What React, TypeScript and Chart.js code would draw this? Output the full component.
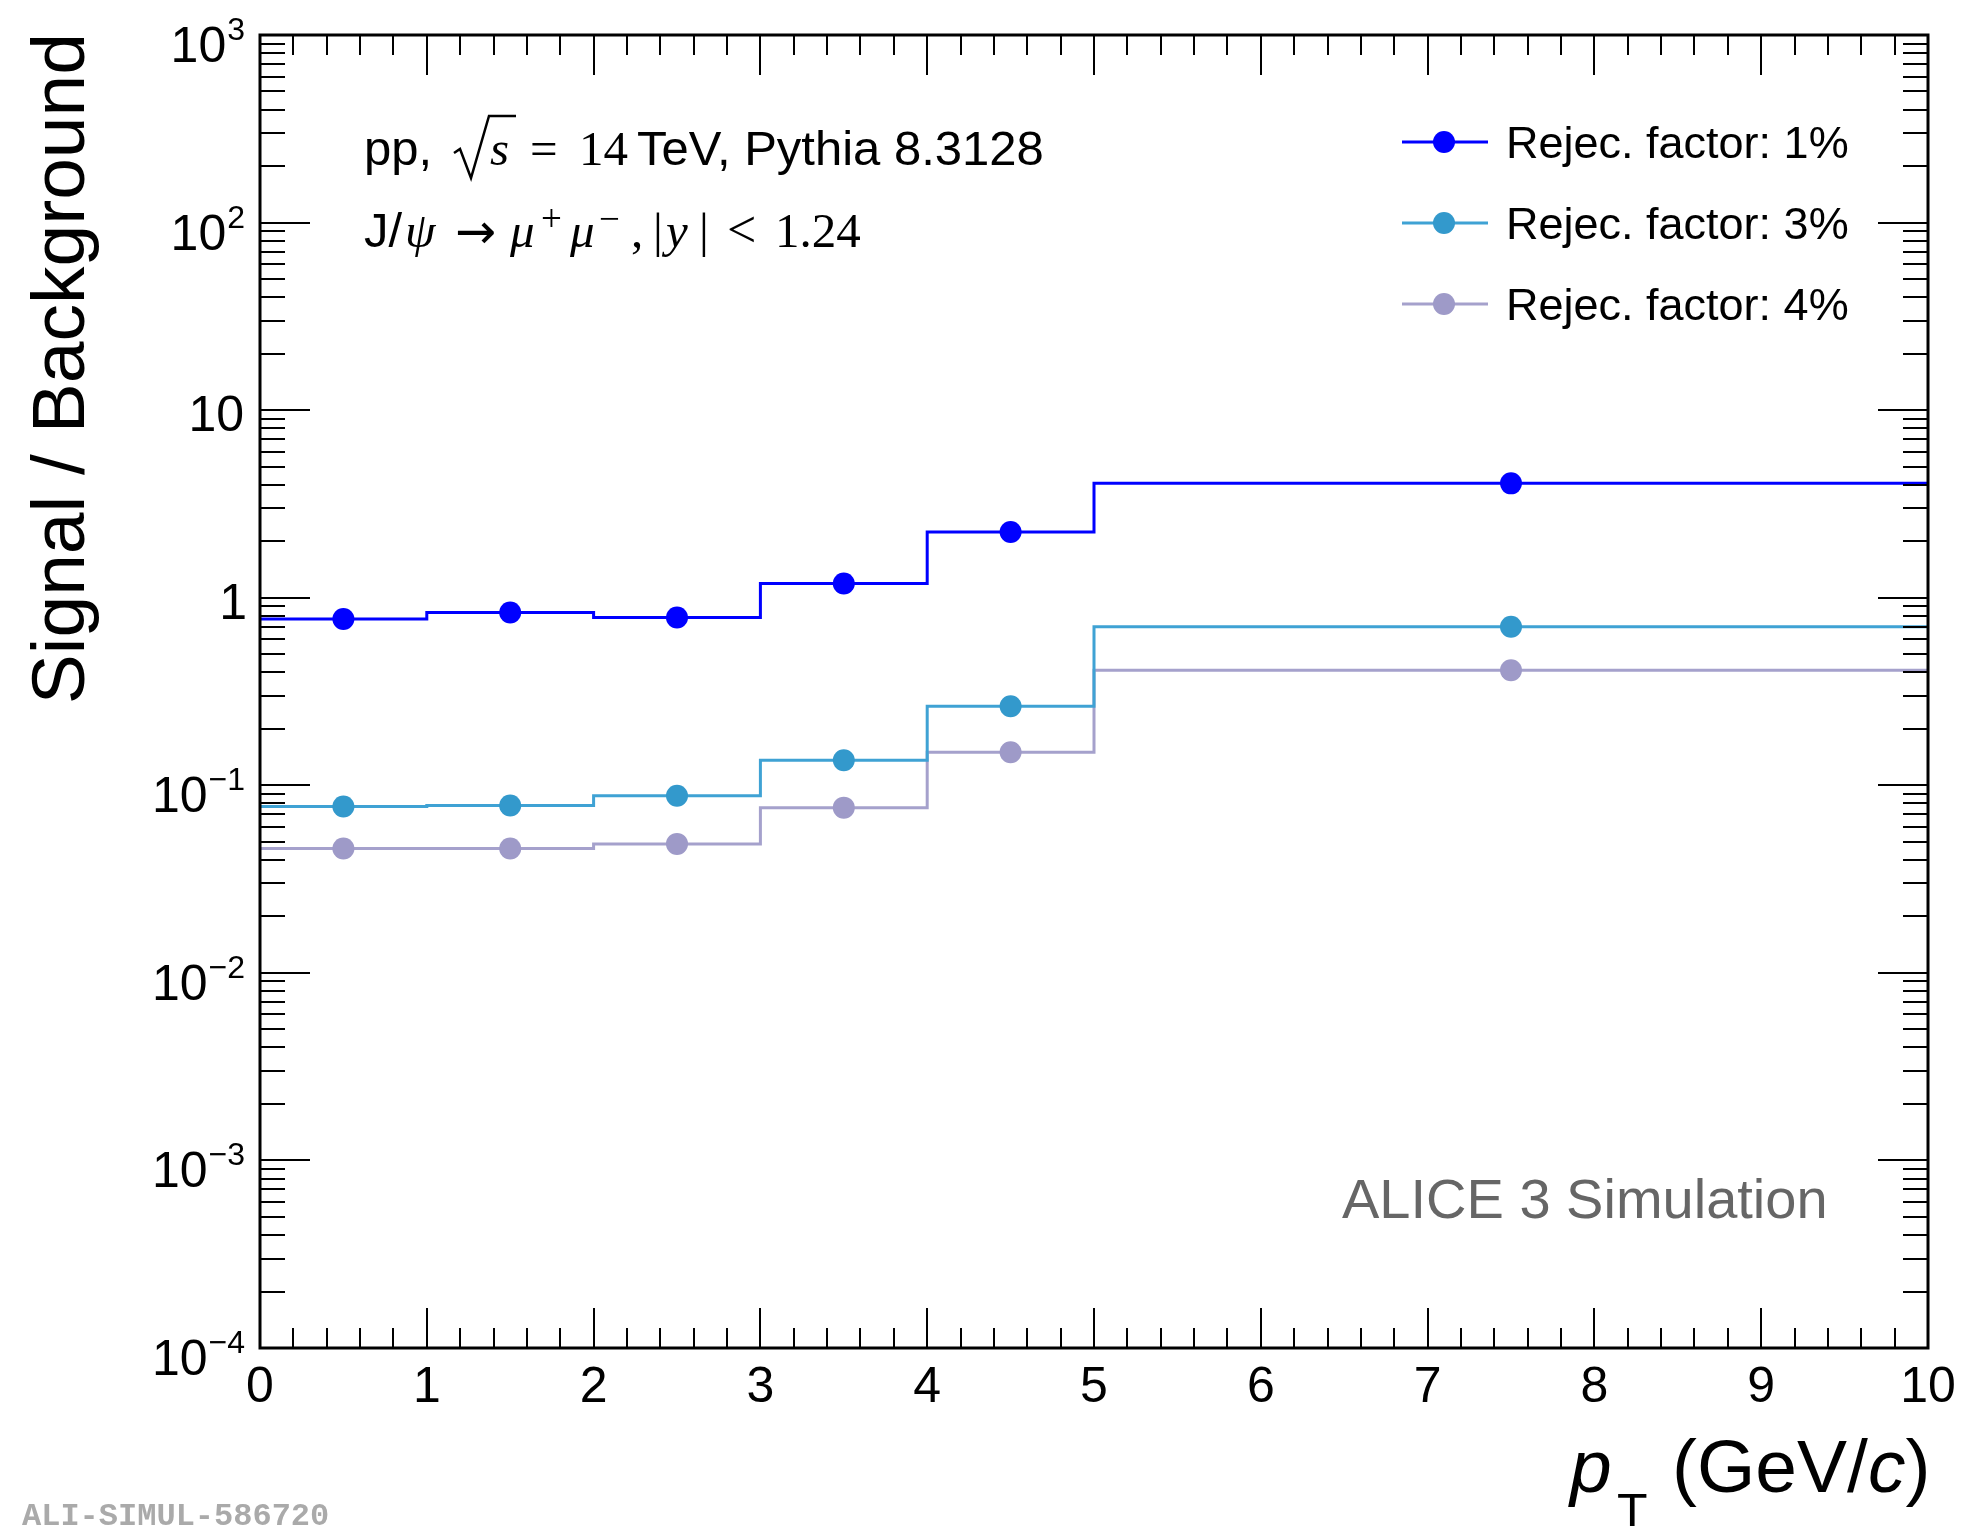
import React, { useEffect, useRef } from "react";
import { Chart, registerables } from "chart.js";

Chart.register(...registerables);

// ---------------- data ----------------
const binEdges = [0, 1, 2, 3, 4, 5, 10];
const binCenters = [0.5, 1.5, 2.5, 3.5, 4.5, 7.5];
const sbRej1 = [0.77, 0.835, 0.785, 1.19, 2.24, 4.07];
const sbRej3 = [0.077, 0.078, 0.088, 0.136, 0.264, 0.7];
const sbRej4 = [0.046, 0.046, 0.0487, 0.076, 0.15, 0.41];
const seriesLabels = ["Rejec. factor: 1%", "Rejec. factor: 3%", "Rejec. factor: 4%"];
const markerColors = ["#0000ff", "#3399cc", "#9e9ac8"];
const lineColors = ["#0000ff", "#3fa2d4", "#a5a1cc"];
const xTickLabels = ["0", "1", "2", "3", "4", "5", "6", "7", "8", "9", "10"];
const yTickExponents = [-4, -3, -2, -1, 0, 1, 2, 3];

const SANS = '"Liberation Sans", Arial, Helvetica, sans-serif';
const SERIF = '"Liberation Serif", "Times New Roman", serif';

function stepPoints(vals: number[]) {
  return binEdges.map((e, i) => ({ x: e, y: vals[Math.min(i, vals.length - 1)] }));
}
function centerPoints(vals: number[]) {
  return binCenters.map((c, i) => ({ x: c, y: vals[i] }));
}

function drawText(
  ctx: CanvasRenderingContext2D,
  s: string,
  x: number,
  y: number,
  font: string,
  color = "#000",
  align: CanvasTextAlign = "left"
) {
  ctx.save();
  ctx.font = font;
  ctx.fillStyle = color;
  ctx.textAlign = align;
  ctx.textBaseline = "alphabetic";
  ctx.fillText(s, x, y);
  ctx.restore();
}
function tw(ctx: CanvasRenderingContext2D, s: string, font: string) {
  ctx.save();
  ctx.font = font;
  const w = ctx.measureText(s).width;
  ctx.restore();
  return w;
}

const rootPlugin = {
  id: "rootStyle",
  beforeDraw(chart: any) {
    const ctx = chart.ctx as CanvasRenderingContext2D;
    ctx.save();
    ctx.fillStyle = "#ffffff";
    ctx.fillRect(0, 0, chart.width, chart.height);
    ctx.restore();
  },
  afterDatasetsDraw(chart: any) {
    const ctx = chart.ctx as CanvasRenderingContext2D;
    const { left, right, top, bottom } = chart.chartArea;
    const xs = chart.scales.x;
    const ys = chart.scales.y;

    ctx.save();
    ctx.strokeStyle = "#000";
    ctx.lineWidth = 2;
    ctx.beginPath();
    // x ticks (bottom & top)
    for (let i = 1; i < 50; i++) {
      const px = Math.round(xs.getPixelForValue(i * 0.2));
      const len = i % 5 === 0 ? 40 : 20;
      ctx.moveTo(px, bottom);
      ctx.lineTo(px, bottom - len);
      ctx.moveTo(px, top);
      ctx.lineTo(px, top + len);
    }
    // y ticks (left & right)
    for (let e = -4; e <= 3; e++) {
      for (let m = 1; m <= 9; m++) {
        if (e === 3 && m > 1) break;
        const v = m * Math.pow(10, e);
        const py = Math.round(ys.getPixelForValue(v));
        const len = m === 1 ? 50 : 25;
        ctx.moveTo(left, py);
        ctx.lineTo(left + len, py);
        ctx.moveTo(right, py);
        ctx.lineTo(right - len, py);
      }
    }
    ctx.stroke();
    // frame
    ctx.lineWidth = 3;
    ctx.strokeRect(left, top, right - left, bottom - top);
    ctx.restore();

    // x tick labels
    xTickLabels.forEach((lab) => {
      const px = xs.getPixelForValue(Number(lab));
      drawText(ctx, lab, px, bottom + 54, `50px ${SANS}`, "#000", "center");
    });

    // y tick labels
    const yRight = 245;
    yTickExponents.forEach((ex) => {
      const py = ys.getPixelForValue(Math.pow(10, ex));
      if (ex === 0 || ex === 1) {
        drawText(ctx, ex === 0 ? "1" : "10", ex === 0 ? yRight + 2 : yRight - 1, py + 21, `50px ${SANS}`, "#000", "right");
      } else {
        const sup = ex < 0 ? "\u2212" + String(-ex) : String(ex);
        const supFont = `32px ${SANS}`;
        const supW = tw(ctx, sup, supFont);
        drawText(ctx, sup, yRight, py + 5, supFont, "#000", "right");
        drawText(ctx, "10", yRight - supW - 1, py + 27, `50px ${SANS}`, "#000", "right");
      }
    });

    // y axis title
    ctx.save();
    ctx.translate(84, 33);
    ctx.rotate(-Math.PI / 2);
    ctx.font = `75px ${SANS}`;
    ctx.fillStyle = "#000";
    ctx.textAlign = "right";
    ctx.fillText("Signal / Background", 0, 0);
    ctx.restore();

    // x axis title
    const bx = 1492;
    drawText(ctx, "p", 1570, bx, `italic 75px ${SANS}`);
    drawText(ctx, "T", 1617, bx + 37, `50px ${SANS}`);
    let cx = 1672;
    drawText(ctx, "(GeV/", cx, bx, `75px ${SANS}`);
    cx += tw(ctx, "(GeV/", `75px ${SANS}`);
    drawText(ctx, "c", cx, bx, `italic 75px ${SANS}`);
    cx += tw(ctx, "c", `italic 75px ${SANS}`);
    drawText(ctx, ")", cx, bx, `75px ${SANS}`);

    // header line 1
    const b1 = 165;
    drawText(ctx, "pp,", 364, b1, `49px ${SANS}`);
    ctx.save();
    ctx.strokeStyle = "#000";
    ctx.lineWidth = 2.5;
    ctx.lineJoin = "miter";
    ctx.beginPath();
    ctx.moveTo(454, b1 - 12);
    ctx.lineTo(460, b1 - 16);
    ctx.lineTo(471, b1 + 13);
    ctx.lineTo(489, b1 - 49);
    ctx.lineTo(516, b1 - 49);
    ctx.stroke();
    ctx.restore();
    drawText(ctx, "s", 490, b1, `italic 49px ${SERIF}`);
    drawText(ctx, "=", 530, b1, `49px ${SERIF}`);
    drawText(ctx, "14", 579, b1, `49px ${SERIF}`);
    drawText(ctx, "TeV, Pythia 8.3128", 637, b1, `49px ${SANS}`);

    // header line 2
    const b2 = 247;
    const sb = b2 - 16;
    drawText(ctx, "J/", 364, b2, `49px ${SANS}`);
    drawText(ctx, "\u03c8", 405, b2, `italic 49px ${SERIF}`);
    drawText(ctx, "\u2192", 455, b2 + 1, `49px "DejaVu Sans", sans-serif`);
    drawText(ctx, "\u03bc", 510, b2, `italic 49px ${SERIF}`);
    drawText(ctx, "+", 541, sb, `37px ${SERIF}`);
    drawText(ctx, "\u03bc", 570, b2, `italic 49px ${SERIF}`);
    drawText(ctx, "\u2212", 599, sb, `37px ${SERIF}`);
    drawText(ctx, ",", 631, b2, `49px ${SERIF}`);
    drawText(ctx, "|", 653, b2, `49px ${SERIF}`);
    drawText(ctx, "y", 666, b2, `italic 49px ${SERIF}`);
    drawText(ctx, "|", 699, b2, `49px ${SERIF}`);
    drawText(ctx, "<", 727, b2, `52px ${SERIF}`);
    drawText(ctx, "1.24", 775, b2, `49px ${SERIF}`);

    // legend
    const rows = [142, 223, 304];
    rows.forEach((ry, i) => {
      ctx.save();
      ctx.strokeStyle = lineColors[i];
      ctx.lineWidth = 3;
      ctx.beginPath();
      ctx.moveTo(1402, ry);
      ctx.lineTo(1488, ry);
      ctx.stroke();
      ctx.fillStyle = markerColors[i];
      ctx.beginPath();
      ctx.arc(1444, ry, 11, 0, Math.PI * 2);
      ctx.fill();
      ctx.restore();
      drawText(ctx, seriesLabels[i], 1506, ry + 16, `45px ${SANS}`);
    });

    // ALICE label
    drawText(ctx, "ALICE 3 Simulation", 1342, 1218, `56px ${SANS}`, "#666666");
    // figure id
    drawText(ctx, "ALI-SIMUL-586720", 22, 1525, `bold 32px "Liberation Mono", "DejaVu Sans Mono", monospace`, "#aaaaaa");
  },
};

export default function App() {
  const canvasRef = useRef<HTMLCanvasElement | null>(null);

  useEffect(() => {
    const canvas = canvasRef.current;
    if (!canvas) return;
    const allSeries = [sbRej1, sbRej3, sbRej4];
    const lineSets = allSeries.map((vals, i) => ({
      label: seriesLabels[i] + " step",
      data: stepPoints(vals),
      showLine: true,
      stepped: "before" as const,
      borderColor: lineColors[i],
      borderWidth: 3,
      pointRadius: 0,
      fill: false,
      order: 2,
    }));
    const markerSets = allSeries.map((vals, i) => ({
      label: seriesLabels[i],
      data: centerPoints(vals),
      showLine: false,
      pointRadius: 11,
      pointStyle: "circle" as const,
      pointBackgroundColor: markerColors[i],
      pointBorderWidth: 0,
      borderColor: markerColors[i],
      backgroundColor: markerColors[i],
      order: 1,
    }));
    const chart = new Chart(canvas, {
      type: "scatter",
      data: { datasets: [...lineSets, ...markerSets] as any },
      options: {
        animation: false,
        responsive: false,
        devicePixelRatio: 1,
        layout: { padding: { left: 260, top: 35, right: 36, bottom: 178 } },
        plugins: {
          legend: { display: false },
          tooltip: { enabled: false },
        },
        scales: {
          x: { type: "linear", min: 0, max: 10, display: false },
          y: { type: "logarithmic", min: 1e-4, max: 1e3, display: false },
        },
      },
      plugins: [rootPlugin as any],
    });
    return () => chart.destroy();
  }, []);

  return (
    <div style={{ position: "absolute", left: 0, top: 0, width: 1964, height: 1526, background: "#fff" }}>
      <canvas ref={canvasRef} width={1964} height={1526} style={{ width: 1964, height: 1526, display: "block" }} />
    </div>
  );
}
